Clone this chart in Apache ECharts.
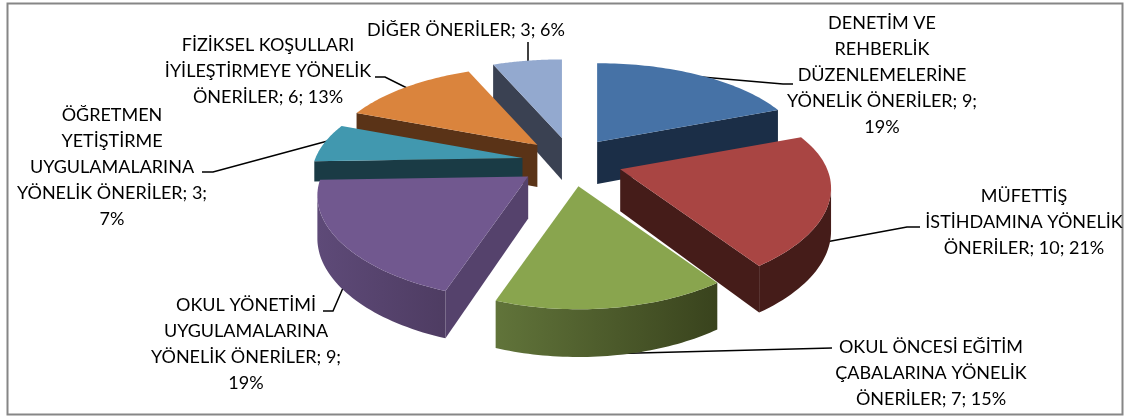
<!DOCTYPE html>
<html><head><meta charset="utf-8">
<style>html,body{margin:0;padding:0;background:#fff}#c{width:1131px;height:418px}</style>
<script src="https://cdn.jsdelivr.net/npm/echarts@6/dist/echarts.min.js"></script>
</head><body><div id="c"></div>
<script>
const categories = ['DENETİM VE\nREHBERLİK\nDÜZENLEMELERİNE\nYÖNELİK ÖNERİLER','MÜFETTİŞ\nİSTİHDAMINA YÖNELİK\nÖNERİLER','OKUL ÖNCESİ EĞİTİM\nÇABALARINA YÖNELİK\nÖNERİLER','OKUL YÖNETİMİ\nUYGULAMALARINA\nYÖNELİK ÖNERİLER','ÖĞRETMEN\nYETİŞTİRME\nUYGULAMALARINA\nYÖNELİK ÖNERİLER','FİZİKSEL KOŞULLARI\nİYİLEŞTİRMEYE YÖNELİK\nÖNERİLER','DİĞER ÖNERİLER'];
const counts = [9,10,7,9,3,6,3];
const percents = [19,21,15,19,7,13,6];
const pctOnNewLine = [true,false,false,true,true,false,false];
const topColors = ['#4672A6','#A94543','#89A54E','#71588F','#4198AF','#DA843D','#93A9CF'];
const sideColors = [['#1B2E47','#1B2E47'],['#451C19','#451C19'],['#61743A','#39431D'],['#5E4A78','#4E3C62'],['#1A3B45','#1A3B45'],['#5A3317','#5A3317'],['#3A4152','#3A4152']];
const radialColors = ['#1B2E47','#451C19','#39431D','#55426C','#1A3B45','#5A3317','#3A4152'];
const depthScale = [1,1,1,1,0.48,1,1];

// projection constants
const CX=571,CY=162,EX=50,EY=24.4,RX=207,RY=96,KX=0.19,KY=0.22,KE=0.1,KD=0.12,DEPTH=42;
const total=counts.reduce((a,b)=>a+b,0);
const starts=[];counts.reduce((a,b,i)=>{starts[i]=a;return a+b;},0);
const rad=p=>p/total*Math.PI*2;
const midV=i=>Math.cos(rad(starts[i]+counts[i]/2));
const order=counts.map((_,i)=>i).sort((a,b)=>midV(b)-midV(a));

function renderSlice(params,api){
  const i=api.value(0),a0=rad(starts[i]),a1=rad(starts[i]+api.value(1));
  const m=(a0+a1)/2;
  const ax=CX+EX*Math.sin(m)/(1+KE*Math.cos(m)),ay=CY-EY*Math.cos(m);
  const N=48,arc=[],dep=[],D=DEPTH*depthScale[i];
  for(let j=0;j<=N;j++){
    const t=a0+(a1-a0)*j/N,u=Math.sin(t),v=Math.cos(t);
    arc.push([ax+RX*u/(1+KX*v),ay-RY*v/(1+KY*v)]);dep.push(D/(1+KD*v));
  }
  const down=(p,d)=>[p[0],p[1]+d];
  const kids=[];
  const mid=arc[N>>1],A=[ax,ay];
  [[arc[0],dep[0]],[arc[N],dep[N]]].forEach(([c,d])=>{
    const ex=c[0]-ax,ey=c[1]-ay;let nx=-ey,ny=ex;
    if(nx*(mid[0]-ax)+ny*(mid[1]-ay)>0){nx=-nx;ny=-ny;}
    if(ny>0)kids.push({type:'polygon',shape:{points:[A,c,down(c,d),down(A,D)]},style:{fill:radialColors[i]},silent:true});
  });
  let first=-1,last=-1;
  for(let j=0;j<N;j++){if(arc[j+1][0]<arc[j][0]){if(first<0)first=j;last=j+1;}}
  if(first>=0){
    const pts=[];
    for(let j=first;j<=last;j++)pts.push(arc[j]);
    for(let j=last;j>=first;j--)pts.push(down(arc[j],dep[j]));
    kids.push({type:'polygon',shape:{points:pts},silent:true,style:{fill:new echarts.graphic.LinearGradient(0,0,1,0,[{offset:0,color:sideColors[i][0]},{offset:1,color:sideColors[i][1]}])}});
  }
  kids.push({type:'polygon',shape:{points:[A].concat(arc)},silent:true,style:{fill:topColors[i]}});
  return {type:'group',children:kids};
}

// label layout: centre x, top-line centre y, leader path
const labelLayout=[
 {x:882,y:23,path:[[690,76],[783,84],[793,84]]},
 {x:1024,y:196,path:[[815,244],[907,227],[920,227]]},
 {x:931,y:347,path:[[600,354],[832,348]]},
 {x:246,y:305,path:[[346,281],[333,311],[323,311]]},
 {x:112,y:115,path:[[335,139],[213,172],[202,172]]},
 {x:268,y:45,path:[[415,92],[385,77],[375,77]]},
 {x:466,y:30,path:[[528,70],[528,42]]}
];
const LH=26;
const graphics=[{type:'rect',shape:{x:7.5,y:3.5,width:1115,height:411},style:{fill:'#fff',stroke:'#868686',lineWidth:2},z:-1,silent:true}];
categories.forEach((name,i)=>{
  const txt=name+'; '+counts[i]+';'+(pctOnNewLine[i]?'\n':' ')+percents[i]+'%';
  const L=labelLayout[i];
  txt.split('\n').forEach((line,k)=>graphics.push({type:'text',z:5,silent:true,style:{text:line,x:L.x,y:L.y+k*LH,align:'center',verticalAlign:'middle',font:'18px Lato, sans-serif',fill:'#000'}}));
  graphics.push({type:'polyline',z:1,silent:true,shape:{points:L.path},style:{stroke:'#000',lineWidth:1.5,fill:null}});
});

const chart=echarts.init(document.getElementById('c'),null,{renderer:'canvas'});
chart.setOption({
  animation:false,backgroundColor:'#fff',
  graphic:{elements:graphics},
  series:[{type:'custom',coordinateSystem:'none',renderItem:renderSlice,silent:true,z:3,
    data:order.map(i=>[i,counts[i]])}]
});
</script></body></html>
